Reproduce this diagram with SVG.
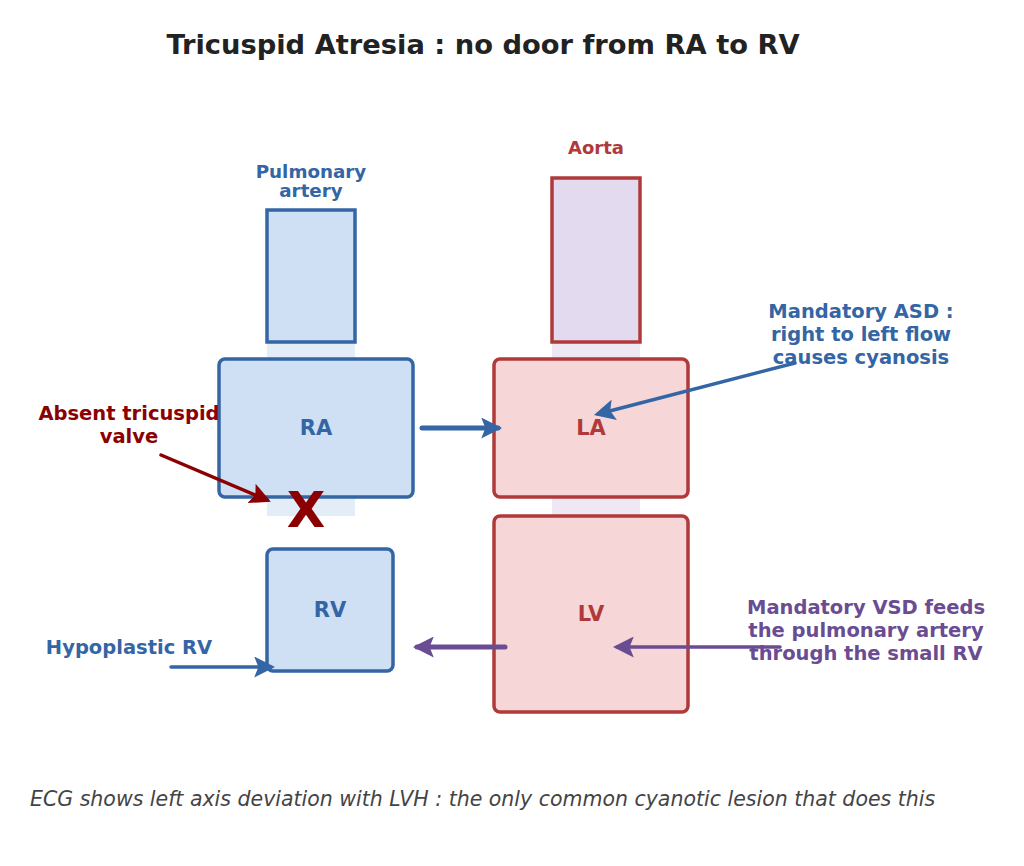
<svg xmlns="http://www.w3.org/2000/svg" width="1024" height="866" viewBox="0 0 1024 866">
<style>
text{font-family:"DejaVu Sans","Liberation Sans",sans-serif;font-weight:bold;text-anchor:middle}
.blue{fill:#3465a4}.red{fill:#b03a3a}.dred{fill:#8b0000}.purple{fill:#6a4c93}
.rbox{fill:#cfe0f4;stroke:#3465a4;stroke-width:3.5}
.lbox{fill:#f6d6d6;stroke:#b03a3a;stroke-width:3.5}
.lab{font-size:21px}
.note{font-size:19.5px}
</style>
<defs>
<marker id="hb" viewBox="0 0 10 10" refX="8" refY="5" markerWidth="4.2" markerHeight="4.2" orient="auto" markerUnits="strokeWidth"><path d="M0,0 L10,5 L0,10 L2,5 z" fill="#3465a4"/></marker>
<marker id="hbs" viewBox="0 0 10 10" refX="8" refY="5" markerWidth="6" markerHeight="6" orient="auto" markerUnits="strokeWidth"><path d="M0,0 L10,5 L0,10 L2,5 z" fill="#3465a4"/></marker>
<marker id="hr" viewBox="0 0 10 10" refX="8" refY="5" markerWidth="6" markerHeight="6" orient="auto" markerUnits="strokeWidth"><path d="M0,0 L10,5 L0,10 L2,5 z" fill="#8b0000"/></marker>
<marker id="hp" viewBox="0 0 10 10" refX="8" refY="5" markerWidth="4.2" markerHeight="4.2" orient="auto" markerUnits="strokeWidth"><path d="M0,0 L10,5 L0,10 L2,5 z" fill="#6a4c93"/></marker>
<marker id="hps" viewBox="0 0 10 10" refX="8" refY="5" markerWidth="6" markerHeight="6" orient="auto" markerUnits="strokeWidth"><path d="M0,0 L10,5 L0,10 L2,5 z" fill="#6a4c93"/></marker>
</defs>
<rect width="1024" height="866" fill="#ffffff"/>
<text x="483" y="54" style="font-size:27.3px;fill:#222">Tricuspid Atresia : no door from RA to RV</text>
<rect x="267" y="342" width="88" height="174" fill="#e3edf8"/>
<rect x="552" y="342" width="88" height="176" fill="#eee8f5"/>
<g id="pa"><rect x="267" y="210" width="88" height="132" class="rbox"/>
<text x="311" y="178" class="blue" style="font-size:18.3px">Pulmonary</text>
<text x="311" y="197" class="blue" style="font-size:18.3px">artery</text></g>
<g id="aorta"><rect x="552" y="178" width="88" height="164" style="fill:#e4daf0;stroke:#b03a3a;stroke-width:3.5"/>
<text x="596" y="154" class="red" style="font-size:18px">Aorta</text></g>
<g id="ra"><rect x="219" y="359" width="194" height="138" rx="6" class="rbox"/>
<text x="316" y="435" class="blue lab">RA</text></g>
<g id="la"><rect x="494" y="359" width="194" height="138" rx="6" class="lbox"/>
<text x="591" y="435" class="red lab">LA</text></g>
<g id="lv"><rect x="494" y="516" width="194" height="196" rx="6" class="lbox"/>
<text x="591" y="621" class="red lab">LV</text></g>
<g id="rv"><rect x="267" y="549" width="126" height="122" rx="6" class="rbox"/>
<text x="330" y="617" class="blue lab">RV</text></g>
<text x="306" y="527" class="dred" style="font-size:50px">X</text>
<g id="connectors" fill="none" stroke-linecap="round">
<line x1="422" y1="428" x2="498" y2="428" stroke="#3465a4" stroke-width="5" marker-end="url(#hb)"/>
<line x1="795" y1="363" x2="598" y2="414" stroke="#3465a4" stroke-width="3.5" marker-end="url(#hbs)"/>
<line x1="161" y1="455" x2="267" y2="500" stroke="#8b0000" stroke-width="3.5" marker-end="url(#hr)"/>
<line x1="171" y1="667" x2="271" y2="667" stroke="#3465a4" stroke-width="3.5" marker-end="url(#hbs)"/>
<line x1="505" y1="647" x2="417" y2="647" stroke="#6a4c93" stroke-width="5" marker-end="url(#hp)"/>
<line x1="780" y1="647" x2="617" y2="647" stroke="#6a4c93" stroke-width="3.5" marker-end="url(#hps)"/>
</g>
<text x="129" y="420" class="dred note">Absent tricuspid</text>
<text x="129" y="443" class="dred note">valve</text>
<text x="129" y="654" class="blue note">Hypoplastic RV</text>
<text x="861" y="318" class="blue note">Mandatory ASD :</text>
<text x="861" y="341" class="blue note">right to left flow</text>
<text x="861" y="364" class="blue note">causes cyanosis</text>
<text x="866" y="614" class="purple note">Mandatory VSD feeds</text>
<text x="866" y="637" class="purple note">the pulmonary artery</text>
<text x="866" y="660" class="purple note">through the small RV</text>
<text x="30" y="806" style="font-size:20.5px;font-weight:normal;font-style:italic;text-anchor:start;fill:#444">ECG shows left axis deviation with LVH : the only common cyanotic lesion that does this</text>
</svg>
